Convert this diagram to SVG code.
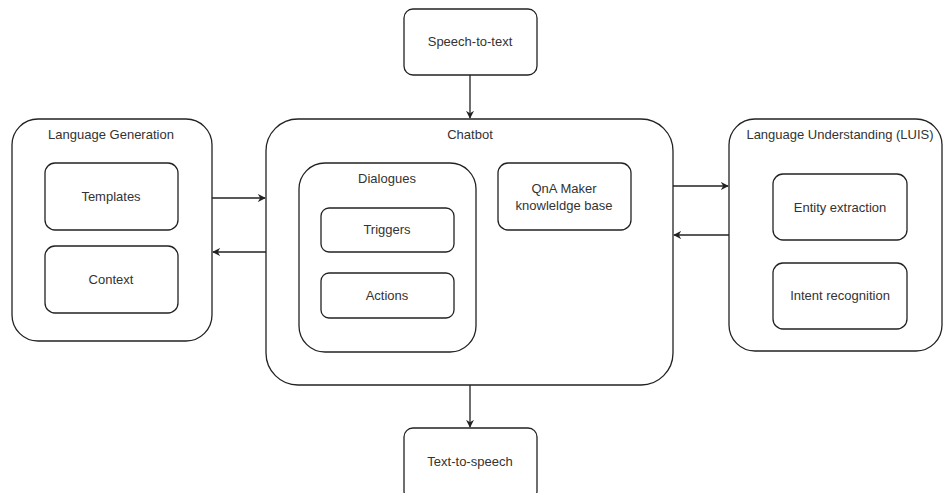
<svg xmlns="http://www.w3.org/2000/svg" width="943" height="493" viewBox="0 0 943 493">
<style>
.b{fill:#fff;stroke:#222;stroke-width:1.3}
.t{font-family:"Liberation Sans",Arial,sans-serif;font-size:13px;fill:#333;text-anchor:middle}
.c{stroke:#222;stroke-width:1.3;fill:none;marker-end:url(#a)}
</style>
<defs>
<marker id="a" viewBox="0 0 10 10" refX="9" refY="5" markerWidth="8" markerHeight="8" markerUnits="userSpaceOnUse" orient="auto">
<path d="M0,0 L10,5 L0,10 L3,5 Z" fill="#222"/>
</marker>
</defs>
<rect width="943" height="493" fill="#fff"/>
<g id="speech-to-text"><rect class="b" x="404" y="9" width="133" height="66" rx="9"/><text class="t" x="470" y="46">Speech-to-text</text></g>
<g id="text-to-speech"><rect class="b" x="404" y="428" width="133" height="72" rx="9"/><text class="t" x="470" y="466">Text-to-speech</text></g>
<g id="language-generation"><rect class="b" x="12" y="119" width="200" height="222" rx="26"/><text class="t" x="111" y="139">Language Generation</text>
<g id="templates"><rect class="b" x="45" y="163" width="133" height="67" rx="10"/><text class="t" x="111" y="201">Templates</text></g>
<g id="context"><rect class="b" x="45" y="246" width="133" height="67" rx="10"/><text class="t" x="111" y="284">Context</text></g></g>
<g id="chatbot"><rect class="b" x="266" y="119" width="407" height="266" rx="32"/><text class="t" x="470" y="139">Chatbot</text>
<g id="dialogues"><rect class="b" x="299" y="163" width="177" height="189" rx="26"/><text class="t" x="387" y="183">Dialogues</text>
<g id="triggers"><rect class="b" x="321" y="208" width="133" height="44" rx="8"/><text class="t" x="387" y="234">Triggers</text></g>
<g id="actions"><rect class="b" x="321" y="273" width="133" height="45" rx="8"/><text class="t" x="387" y="300">Actions</text></g></g>
<g id="qna"><rect class="b" x="498" y="163" width="133" height="67" rx="10"/><text class="t" x="564" y="193">QnA Maker</text><text class="t" x="564" y="210">knowleldge base</text></g></g>
<g id="luis"><rect class="b" x="729" y="119" width="213" height="232" rx="26"/><text class="t" x="840" y="139">Language Understanding (LUIS)</text>
<g id="entity"><rect class="b" x="773" y="174" width="134" height="66" rx="10"/><text class="t" x="840" y="212">Entity extraction</text></g>
<g id="intent"><rect class="b" x="773" y="263" width="134" height="66" rx="10"/><text class="t" x="840" y="300">Intent recognition</text></g></g>
<g id="connectors">
<path class="c" d="M470,75 L470,118"/>
<path class="c" d="M470,385 L470,427"/>
<path class="c" d="M212,198 L265,198"/>
<path class="c" d="M266,252 L213,252"/>
<path class="c" d="M673,186 L728,186"/>
<path class="c" d="M729,235 L674,235"/>
</g>
</svg>
